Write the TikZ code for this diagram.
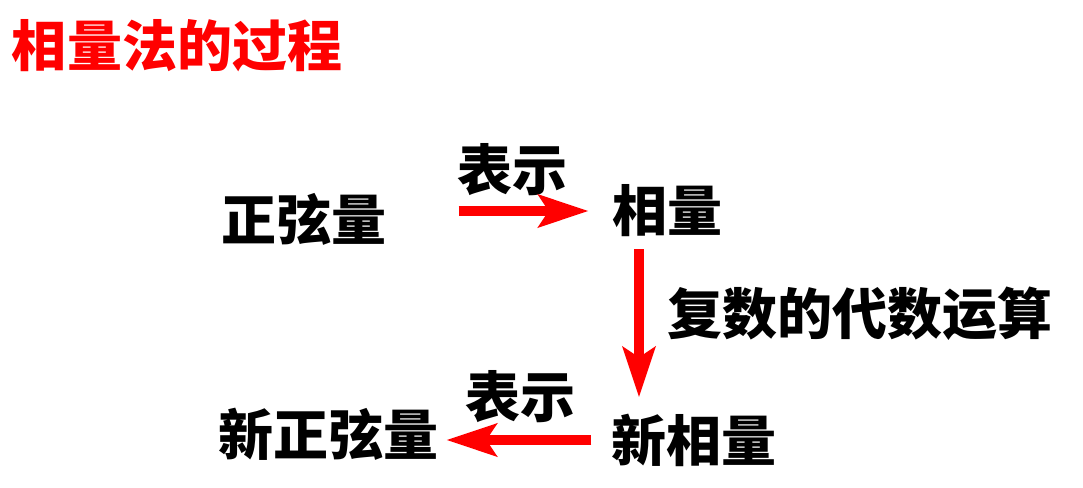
\documentclass[tikz,border=0pt]{standalone}
\usepackage{fontspec}
\newfontfamily\cjk{Noto Sans CJK SC}
\usetikzlibrary{arrows.meta}
\begin{document}
\begin{tikzpicture}[x=1pt,y=-1pt,
  lbl/.style={font=\cjk\bfseries\fontsize{55}{60}\selectfont, inner sep=0pt, text=black},
  ttl/.style={font=\cjk\bfseries\fontsize{55}{60}\selectfont, inner sep=0pt, text=red},
  arr/.style={draw=red, line width=10pt, -{Stealth[length=50pt,width=32pt,inset=10pt]}}]
\useasboundingbox[fill=white] (0,0) rectangle (1083,487);
\node[ttl] (title) at (177,46) {相量法的过程};
\node[lbl] (zxl) at (304,219) {正弦量};
\node[lbl] (xl) at (667,211) {相量};
\node[lbl] (bs1) at (512,170) {表示};
\node[lbl] (fs) at (860,314) {复数的代数运算};
\node[lbl] (xxl) at (694,440) {新相量};
\node[lbl] (xzxl) at (328,434) {新正弦量};
\node[lbl] (bs2) at (520,397) {表示};
\draw[arr, shorten <=72pt, shorten >=23pt] (xl.west -| zxl.east) -- (xl.west);
\draw[arr, shorten <=12pt, shorten >=16pt] ([xshift=-28pt]xl.south) -- ([xshift=-28pt]xl.south |- xxl.north);
\draw[arr, shorten <=20pt, shorten >=8pt] (xxl.west) -- (xxl.west -| xzxl.east);
\end{tikzpicture}
\end{document}
